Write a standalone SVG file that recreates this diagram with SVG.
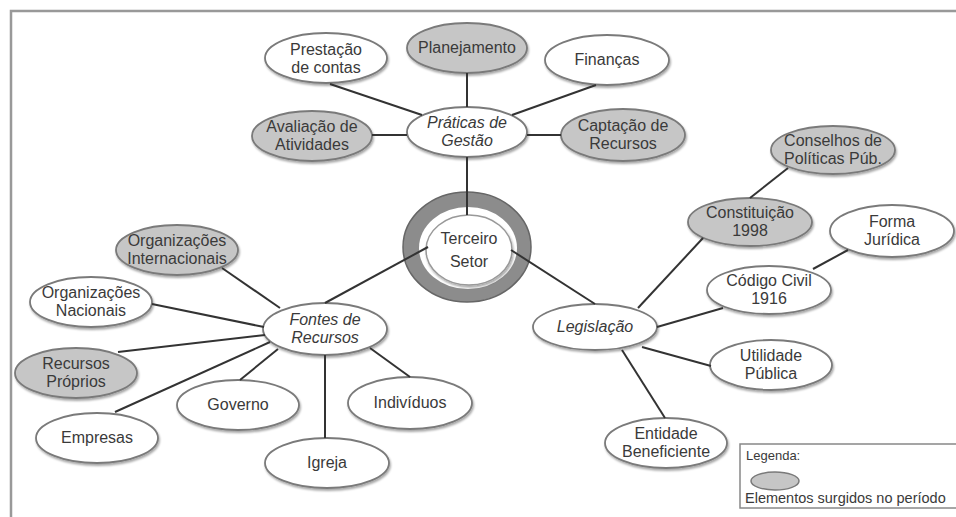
<svg xmlns="http://www.w3.org/2000/svg" width="956" height="517" viewBox="0 0 956 517">
<defs>
<filter id="sh" x="-20%" y="-20%" width="140%" height="150%">
<feDropShadow dx="1" dy="2" stdDeviation="1.2" flood-color="#000" flood-opacity="0.35"/>
</filter>
<style>
.n ellipse{stroke:#7a7a7a;stroke-width:1.8;filter:url(#sh)}
.w ellipse{fill:#fff}
.g ellipse{fill:#c6c6c6}
text{font-family:"Liberation Sans",Arial,sans-serif;font-size:16px;fill:#3a3a3a;text-anchor:middle}
.i text{font-style:italic}
.c line{stroke:#333;stroke-width:2}
</style>
</defs>
<rect width="956" height="517" fill="#fff"/>
<path d="M11,517 V11 H956" fill="none" stroke="#999" stroke-width="2.5"/>

<g id="nodes">
<g id="prestacao" class="n w"><ellipse cx="326" cy="58" rx="61" ry="25"/><text x="326" y="55">Prestação</text><text x="326" y="73">de contas</text></g>
<g id="planejamento" class="n g"><ellipse cx="467" cy="48" rx="60" ry="25"/><text x="467" y="53">Planejamento</text></g>
<g id="financas" class="n w"><ellipse cx="607" cy="60" rx="62" ry="25"/><text x="607" y="65">Finanças</text></g>
<g id="avaliacao" class="n g"><ellipse cx="312" cy="136" rx="60" ry="25"/><text x="312" y="132">Avaliação de</text><text x="312" y="150">Atividades</text></g>
<g id="praticas" class="n w i"><ellipse cx="467" cy="132" rx="60" ry="25"/><text x="467" y="128">Práticas de</text><text x="467" y="146">Gestão</text></g>
<g id="captacao" class="n g"><ellipse cx="623" cy="135" rx="62" ry="26"/><text x="623" y="131">Captação de</text><text x="623" y="149">Recursos</text></g>
<g id="terceiro">
<ellipse cx="467" cy="247" rx="64" ry="55" fill="#8c8c8c" stroke="#666" stroke-width="1.5"/>
<ellipse cx="468" cy="248" rx="49" ry="41" fill="#fff"/>
<ellipse cx="469" cy="250" rx="43" ry="35" fill="#fff" stroke="#999" stroke-width="1.5" filter="url(#sh)"/>
<text x="469" y="244">Terceiro</text><text x="469" y="267">Setor</text>
</g>
<g id="conselhos" class="n g"><ellipse cx="833" cy="150" rx="62" ry="24"/><text x="833" y="146">Conselhos de</text><text x="833" y="164">Políticas Púb.</text></g>
<g id="constituicao" class="n g"><ellipse cx="750" cy="222" rx="62" ry="24"/><text x="750" y="218">Constituição</text><text x="750" y="236">1998</text></g>
<g id="forma" class="n w"><ellipse cx="892" cy="231" rx="62" ry="26"/><text x="892" y="227">Forma</text><text x="892" y="245">Jurídica</text></g>
<g id="codigo" class="n w"><ellipse cx="769" cy="290" rx="62" ry="24"/><text x="769" y="286">Código Civil</text><text x="769" y="304">1916</text></g>
<g id="legislacao" class="n w i"><ellipse cx="595" cy="327" rx="62" ry="23"/><text x="595" y="332">Legislação</text></g>
<g id="utilidade" class="n w"><ellipse cx="771" cy="365" rx="61" ry="25"/><text x="771" y="361">Utilidade</text><text x="771" y="379">Pública</text></g>
<g id="entidade" class="n w"><ellipse cx="666" cy="443" rx="61" ry="25"/><text x="666" y="439">Entidade</text><text x="666" y="457">Beneficiente</text></g>
<g id="orgint" class="n g"><ellipse cx="177" cy="250" rx="61" ry="25"/><text x="177" y="246">Organizações</text><text x="177" y="264">Internacionais</text></g>
<g id="orgnac" class="n w"><ellipse cx="91" cy="302" rx="61" ry="25"/><text x="91" y="298">Organizações</text><text x="91" y="316">Nacionais</text></g>
<g id="recursos" class="n g"><ellipse cx="76" cy="373" rx="61" ry="25"/><text x="76" y="369">Recursos</text><text x="76" y="387">Próprios</text></g>
<g id="empresas" class="n w"><ellipse cx="97" cy="438" rx="61" ry="25"/><text x="97" y="443">Empresas</text></g>
<g id="governo" class="n w"><ellipse cx="238" cy="405" rx="61" ry="25"/><text x="238" y="410">Governo</text></g>
<g id="igreja" class="n w"><ellipse cx="327" cy="463" rx="62" ry="25"/><text x="327" y="468">Igreja</text></g>
<g id="individuos" class="n w"><ellipse cx="410" cy="403" rx="62" ry="26"/><text x="410" y="408">Indivíduos</text></g>
<g id="fontes" class="n w i"><ellipse cx="325" cy="329" rx="62" ry="26"/><text x="325" y="325">Fontes de</text><text x="325" y="343">Recursos</text></g>
</g>

<g id="connectors" class="c">
<line x1="330" y1="84" x2="422" y2="115"/>
<line x1="467" y1="73" x2="467" y2="107"/>
<line x1="596" y1="85" x2="512" y2="115"/>
<line x1="372" y1="135" x2="407" y2="135"/>
<line x1="527" y1="135" x2="561" y2="135"/>
<line x1="467" y1="157" x2="467" y2="215"/>
<line x1="325" y1="303" x2="428" y2="247"/>
<line x1="511" y1="250" x2="595" y2="304"/>
<line x1="222" y1="268" x2="280" y2="308"/>
<line x1="152" y1="304" x2="264" y2="327"/>
<line x1="118" y1="352" x2="265" y2="335"/>
<line x1="115" y1="412" x2="270" y2="342"/>
<line x1="240" y1="380" x2="278" y2="349"/>
<line x1="325" y1="355" x2="325" y2="438"/>
<line x1="370" y1="348" x2="410" y2="377"/>
<line x1="638" y1="308" x2="703" y2="238"/>
<line x1="750" y1="198" x2="788" y2="168"/>
<line x1="657" y1="327" x2="723" y2="308"/>
<line x1="813" y1="269" x2="848" y2="250"/>
<line x1="642" y1="347" x2="711" y2="366"/>
<line x1="622" y1="350" x2="665" y2="418"/>
</g>

<g id="legend">
<rect x="740" y="444" width="230" height="64" fill="#fff" stroke="#888" stroke-width="1.5"/>
<text x="746" y="460" style="text-anchor:start;font-size:13px">Legenda:</text>
<ellipse cx="775" cy="481" rx="24" ry="9" fill="#c6c6c6" stroke="#7a7a7a" stroke-width="1.5"/>
<text x="745" y="503" style="text-anchor:start;font-size:14.5px">Elementos surgidos no período</text>
</g>
</svg>
